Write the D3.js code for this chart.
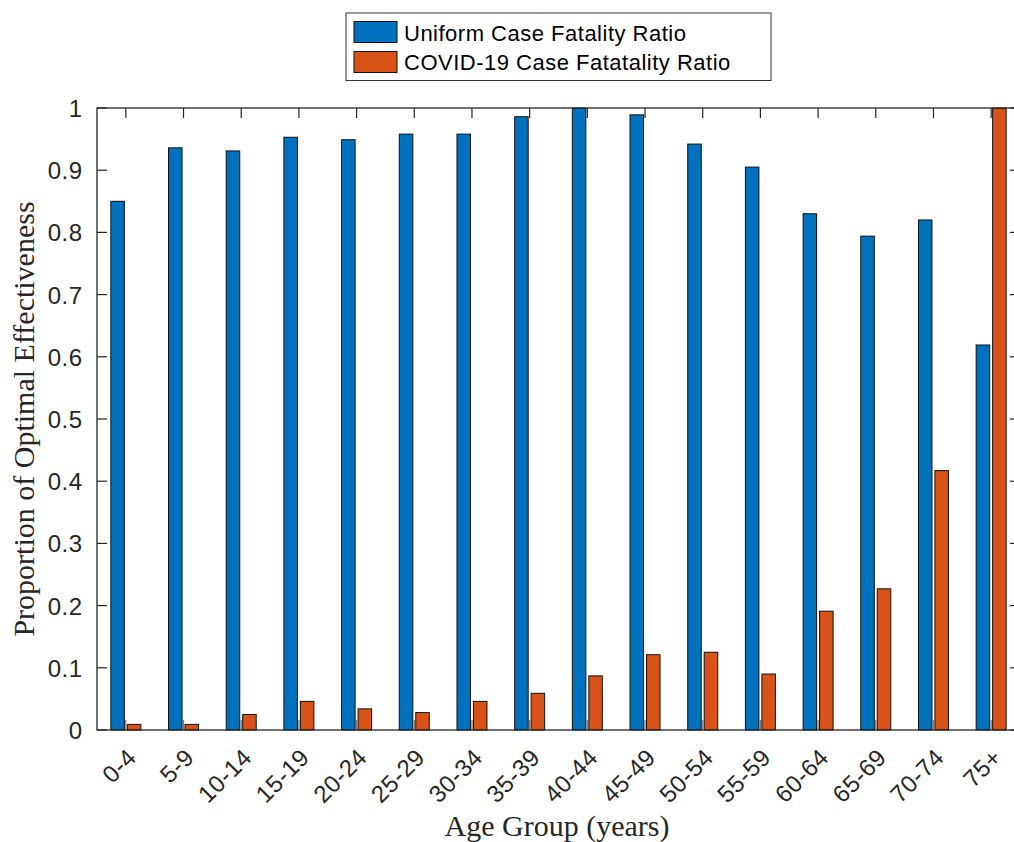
<!DOCTYPE html>
<html>
<head>
<meta charset="utf-8">
<script src="https://cdn.jsdelivr.net/npm/d3@7"></script>
<style>
  body { margin: 0; background: #fff; }
  svg { display: block; }
</style>
</head>
<body>
<div id="chart"></div>
<script>
var ageGroups = ['0-4','5-9','10-14','15-19','20-24','25-29','30-34','35-39','40-44','45-49','50-54','55-59','60-64','65-69','70-74','75+'];
var uniformCFR = [0.850, 0.936, 0.931, 0.953, 0.949, 0.958, 0.958, 0.986, 1.000, 0.989, 0.942, 0.905, 0.830, 0.794, 0.820, 0.619];
var covidCFR = [0.009, 0.009, 0.025, 0.046, 0.034, 0.028, 0.046, 0.059, 0.087, 0.121, 0.125, 0.090, 0.191, 0.227, 0.417, 1.000];
var seriesNames = ['Uniform Case Fatality Ratio', 'COVID-19 Case Fatatality Ratio'];
var yTicks = [0, 0.1, 0.2, 0.3, 0.4, 0.5, 0.6, 0.7, 0.8, 0.9, 1];

var colors = ['#0072BD', '#D95319'];
var axisColor = '#262626';
var sansFont = 'Liberation Sans, Arial, sans-serif';
var serifFont = 'Liberation Serif, serif';

var dims = {
  width: 1014,
  height: 842,
  left: 97,
  right: 1020,
  top: 108,
  bottom: 730,
  tick: 10
};

var svg = d3.select('#chart').append('svg')
  .attr('width', dims.width)
  .attr('height', dims.height);

var x0 = d3.scaleBand().domain(ageGroups).range([dims.left, dims.right]).paddingInner(0).paddingOuter(0);
var x1 = d3.scaleBand().domain([0, 1]).range([0, x0.bandwidth()]).paddingInner(0.18).paddingOuter(0.84);
var y = d3.scaleLinear().domain([0, 1]).range([dims.bottom, dims.top]);

// tick marks, pointing inward on all four sides
ageGroups.forEach(function(g) {
  var cx = x0(g) + x0.bandwidth() / 2;
  svg.append('line').attr('x1', cx).attr('x2', cx).attr('y1', dims.bottom).attr('y2', dims.bottom - dims.tick)
    .attr('stroke', '#777').attr('stroke-width', 1.2);
  svg.append('line').attr('x1', cx).attr('x2', cx).attr('y1', dims.top).attr('y2', dims.top + dims.tick)
    .attr('stroke', axisColor).attr('stroke-width', 1.2);
});
yTicks.forEach(function(t) {
  svg.append('line').attr('x1', dims.left).attr('x2', dims.left + dims.tick).attr('y1', y(t)).attr('y2', y(t))
    .attr('stroke', axisColor).attr('stroke-width', 1.2);
  svg.append('line').attr('x1', dims.right).attr('x2', dims.right - dims.tick).attr('y1', y(t)).attr('y2', y(t))
    .attr('stroke', axisColor).attr('stroke-width', 1.2);
});

// bars
var series = [uniformCFR, covidCFR];
series.forEach(function(vals, s) {
  svg.append('g').selectAll('rect')
    .data(vals)
    .enter().append('rect')
      .attr('x', function(d, i) { return x0(ageGroups[i]) + x1(s); })
      .attr('y', function(d) { return y(d); })
      .attr('width', x1.bandwidth())
      .attr('height', function(d) { return y(0) - y(d); })
      .attr('fill', colors[s])
      .attr('stroke', '#111')
      .attr('stroke-width', 1);
});

// axes box
svg.append('rect')
  .attr('x', dims.left).attr('y', dims.top)
  .attr('width', dims.right - dims.left).attr('height', dims.bottom - dims.top)
  .attr('fill', 'none').attr('stroke', axisColor).attr('stroke-width', 1.3);

// y tick labels
yTicks.forEach(function(t) {
  svg.append('text')
    .attr('x', 82.5)
    .attr('y', y(t) + 9)
    .attr('fill', axisColor)
    .attr('font-family', sansFont)
    .attr('font-size', 24)
    .attr('letter-spacing', 0.5)
    .attr('text-anchor', 'end')
    .text(d3.format('~g')(t));
});

// x tick labels, rotated 45 degrees
ageGroups.forEach(function(g) {
  var cx = x0(g) + x0.bandwidth() / 2;
  svg.append('text')
    .attr('transform', 'translate(' + (cx + 12) + ',' + (dims.bottom + 29) + ') rotate(-45)')
    .attr('fill', axisColor)
    .attr('font-family', sansFont)
    .attr('font-size', 24)
    .attr('letter-spacing', 0.5)
    .attr('text-anchor', 'end')
    .text(g);
});

// axis titles
svg.append('text')
  .attr('x', (dims.left + 1017) / 2)
  .attr('y', 836)
  .attr('fill', axisColor)
  .attr('font-family', serifFont)
  .attr('font-size', 30)
  .attr('text-anchor', 'middle')
  .text('Age Group (years)');

svg.append('text')
  .attr('transform', 'translate(34,' + (dims.top + dims.bottom) / 2 + ') rotate(-90)')
  .attr('fill', axisColor)
  .attr('font-family', serifFont)
  .attr('font-size', 30)
  .attr('text-anchor', 'middle')
  .text('Proportion of Optimal Effectiveness');

// legend
var legend = svg.append('g').attr('transform', 'translate(346,13)');
legend.append('rect')
  .attr('width', 425).attr('height', 67.5)
  .attr('fill', '#fff').attr('stroke', '#333').attr('stroke-width', 1);
seriesNames.forEach(function(name, s) {
  legend.append('rect')
    .attr('x', 8).attr('y', 8.5 + s * 30)
    .attr('width', 43).attr('height', 21)
    .attr('fill', colors[s]).attr('stroke', '#111').attr('stroke-width', 1);
  legend.append('text')
    .attr('x', 58).attr('y', 27.8 + s * 29.5)
    .attr('fill', '#000')
    .attr('font-family', sansFont)
    .attr('font-size', 22)
    .attr('letter-spacing', 0.5)
    .text(name);
});
</script>
</body>
</html>
